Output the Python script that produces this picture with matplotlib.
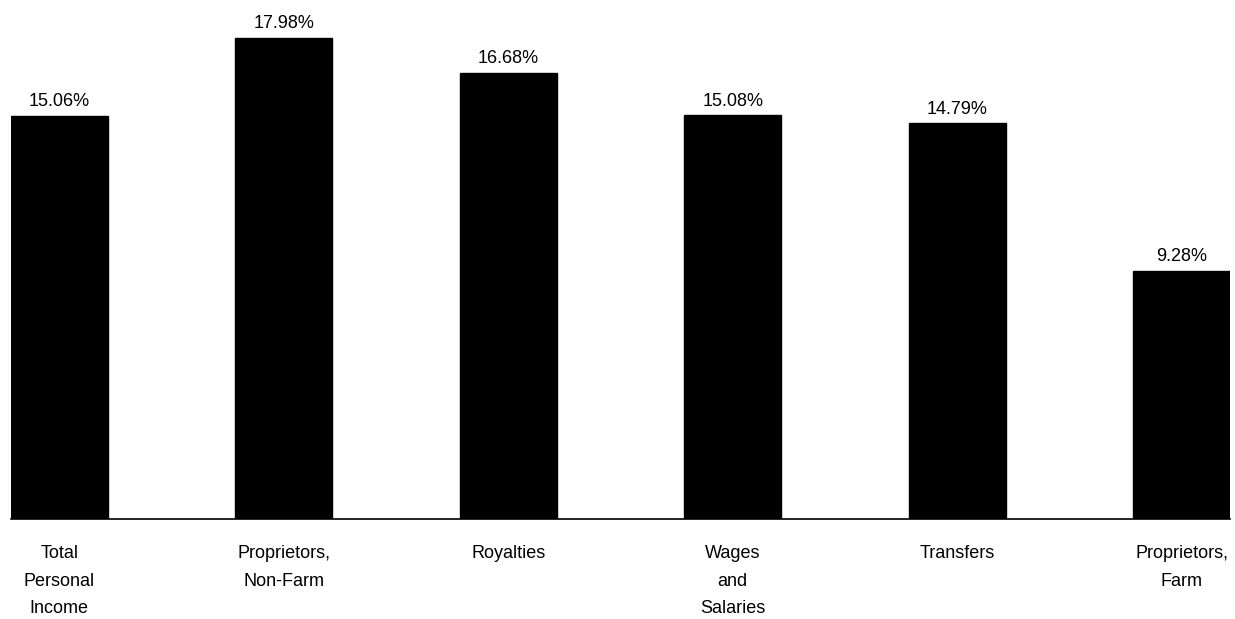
import matplotlib
matplotlib.use("Agg")
import matplotlib.pyplot as plt

categories = ["Total\nPersonal\nIncome", "Proprietors,\nNon-Farm", "Royalties",
              "Wages\nand\nSalaries", "Transfers", "Proprietors,\nFarm"]
values = [15.06, 17.98, 16.68, 15.08, 14.79, 9.28]
value_labels = ["15.06%", "17.98%", "16.68%", "15.08%", "14.79%", "9.28%"]

plt.rcParams['font.family'] = ['Liberation Sans', 'DejaVu Sans']

W, H = 1235, 619
fig = plt.figure(figsize=(W / 100, H / 100), dpi=100)
left_px, right_px = 11, 1230
base_px, top_px = 519, 30
ax = fig.add_axes([left_px / W, (H - base_px) / H, (right_px - left_px) / W, (base_px - top_px) / H])

bw = 0.43
x = list(range(len(values)))
ax.bar(x, values, width=bw, color="black", edgecolor="black")
ax.set_xlim(-bw / 2, len(values) - 1 + bw / 2)
ax.set_ylim(0, (base_px - top_px) / 26.76)

for xi, v, lab in zip(x, values, value_labels):
    ax.annotate(lab, (xi, v), xytext=(0, 4), textcoords="offset points",
                ha="center", va="bottom", fontsize=13)

ax.set_xticks(x)
ax.set_xticklabels(categories, fontsize=13, va="top", linespacing=1.78)
ax.tick_params(axis="x", length=0, pad=19)
ax.set_yticks([])
for s in ["top", "right", "left"]:
    ax.spines[s].set_visible(False)
ax.spines["bottom"].set_linewidth(1.2)

fig.savefig("out.png", dpi=100, facecolor="white")
